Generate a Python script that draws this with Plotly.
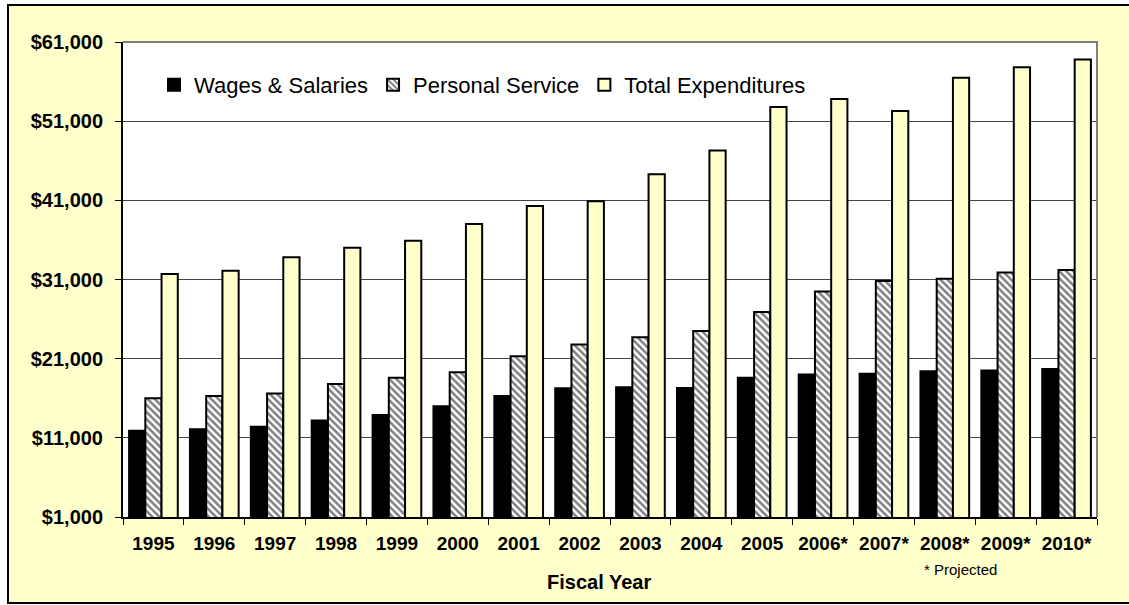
import plotly.graph_objects as go

# Fiscal years (starred years are projections)
years = ["1995", "1996", "1997", "1998", "1999", "2000", "2001", "2002",
         "2003", "2004", "2005", "2006*", "2007*", "2008*", "2009*", "2010*"]

# Amounts in dollars (millions)
wages_salaries = [11900, 12100, 12400, 13200, 13900, 15000, 16300, 17250,
                  17400, 17300, 18600, 19000, 19100, 19400, 19500, 19700]
personal_service = [16000, 16300, 16600, 17800, 18600, 19300, 21300, 22800,
                    23700, 24500, 26900, 29500, 30800, 31100, 31900, 32200]
total_expenditures = [31700, 32100, 33800, 35000, 35900, 38000, 40300, 40900,
                      44300, 47300, 52800, 53800, 52300, 56500, 57800, 58800]

y_ticks = [1000, 11000, 21000, 31000, 41000, 51000, 61000]
y_tick_labels = [f"${v:,}" for v in y_ticks]

FONT = "Arial, Liberation Sans, sans-serif"
CREAM = "#FFFFCC"

fig = go.Figure()
fig.add_trace(go.Bar(
    x=years, y=wages_salaries, name="Wages & Salaries",
    marker=dict(color="black", line=dict(color="black", width=2)),
))
fig.add_trace(go.Bar(
    x=years, y=personal_service, name="Personal Service",
    marker=dict(color="white", line=dict(color="black", width=2),
                pattern=dict(shape="\\", fgcolor="black", bgcolor="white",
                             size=5, solidity=0.5)),
))
fig.add_trace(go.Bar(
    x=years, y=total_expenditures, name="Total Expenditures",
    marker=dict(color=CREAM, line=dict(color="black", width=2)),
))

# pixel-based layout helpers
W, H = 1129, 605
L, R, T, B = 123, 1097, 42, 517
pw, ph = R - L, B - T


def px_x(x):
    return (x - L) / pw


def px_y(y):
    return (B - y) / ph


shapes = [
    # white strips outside the chart frame
    dict(type="rect", xref="paper", yref="paper", x0=px_x(-5), x1=px_x(8),
         y0=px_y(W), y1=px_y(-5), fillcolor="white", line_width=0, layer="above"),
    dict(type="rect", xref="paper", yref="paper", x0=px_x(-5), x1=px_x(W + 5),
         y0=px_y(5), y1=px_y(-5), fillcolor="white", line_width=0, layer="above"),
    dict(type="rect", xref="paper", yref="paper", x0=px_x(-5), x1=px_x(W + 5),
         y0=px_y(H + 5), y1=px_y(603), fillcolor="white", line_width=0, layer="above"),
    # chart frame
    dict(type="rect", xref="paper", yref="paper", x0=px_x(8), x1=px_x(W + 4),
         y0=px_y(603), y1=px_y(5), line=dict(color="black", width=2), layer="above"),
    # grey plot-area border on top and right
    dict(type="path", xref="paper", yref="paper", path="M 0,1 L 1,1 L 1,0",
         line=dict(color="#808080", width=2), layer="above"),
]

fig.update_layout(
    width=W, height=H,
    margin=dict(l=L, r=W - R, t=T, b=H - B, pad=0),
    paper_bgcolor=CREAM,
    plot_bgcolor="white",
    barmode="group",
    bargap=0.2,
    bargroupgap=0,
    font=dict(family=FONT, color="black"),
    showlegend=True,
    legend=dict(orientation="h", x=px_x(154), xanchor="left",
                y=px_y(85), yanchor="middle",
                bgcolor="rgba(0,0,0,0)", borderwidth=0,
                font=dict(family=FONT, size=22, color="black"),
                traceorder="normal"),
    shapes=shapes,
    annotations=[
        dict(text="<b>Fiscal Year</b>", xref="paper", yref="paper",
             x=px_x(599), y=px_y(582), xanchor="center", yanchor="middle",
             showarrow=False, font=dict(family=FONT, size=20, color="black")),
        dict(text="* Projected", xref="paper", yref="paper",
             x=px_x(960), y=px_y(569), xanchor="center", yanchor="middle",
             showarrow=False, font=dict(family=FONT, size=15, color="black")),
    ],
)

fig.update_xaxes(
    type="category",
    showline=True, linecolor="black", linewidth=2,
    ticks="outside", tickson="boundaries", ticklen=6, tickwidth=1,
    tickcolor="black", showgrid=False,
    tickfont=dict(family=FONT, size=19, color="black", weight="bold"),
    ticklabelstandoff=8,
)

fig.update_yaxes(
    range=[1000, 61000],
    tickmode="array", tickvals=y_ticks, ticktext=y_tick_labels,
    showline=True, linecolor="black", linewidth=2,
    ticks="outside", ticklen=6, tickwidth=1, tickcolor="black",
    showgrid=True, gridcolor="#444444", gridwidth=1,
    zeroline=False,
    tickfont=dict(family=FONT, size=20, color="black", weight="bold"),
    ticklabelstandoff=8,
)

fig.write_html("out.html")
